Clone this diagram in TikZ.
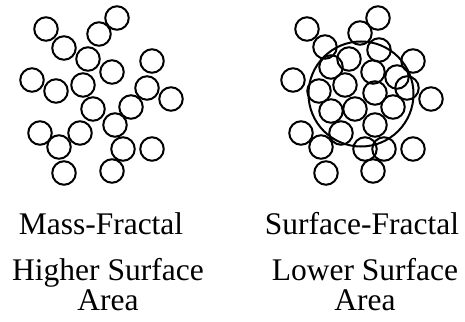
\documentclass[tikz,border=0pt]{standalone}
\usepackage{fontspec}
\setmainfont{Liberation Serif}
\usetikzlibrary{positioning}
\tikzset{
   part/.style={draw, circle, line width=2pt, minimum size=23.5pt, inner sep=0pt},
   agg/.style={draw, circle, line width=2pt, minimum size=105pt, inner sep=0pt},
   caption/.style={font=\fontsize{31.5}{30}\selectfont, align=center, inner sep=0pt},
}

\begin{document}
\begin{tikzpicture}[x=1pt, y=-1pt]
\useasboundingbox (0,0) rectangle (465,321);

% ------------------------------------------------------------
% Mass-fractal cluster
% ------------------------------------------------------------
\node[part] (m1)  at (46,29)   {};
\node[part] (m2)  at (117,18)  {};
\node[part] (m3)  at (99,34)   {};
\node[part] (m4)  at (64,48)   {};
\node[part] (m5)  at (88,59)   {};
\node[part] (m6)  at (152,61)  {};
\node[part] (m7)  at (112,72)  {};
\node[part] (m8)  at (32,80)   {};
\node[part] (m9)  at (56,91)   {};
\node[part] (m10) at (83,85)   {};
\node[part] (m11) at (147,88)  {};
\node[part] (m12) at (171,99)  {};
\node[part] (m13) at (93,109)  {};
\node[part] (m14) at (131,107) {};
\node[part] (m15) at (115,125) {};
\node[part] (m16) at (40,133)  {};
\node[part] (m17) at (80,133)  {};
\node[part] (m18) at (59,147)  {};
\node[part] (m19) at (123,149) {};
\node[part] (m20) at (152,149) {};
\node[part] (m21) at (64,173)  {};
\node[part] (m22) at (112,171) {};

% ------------------------------------------------------------
% Surface-fractal cluster
% ------------------------------------------------------------
\node[agg] (core) at (361,94) {};

\node[part] (s1)  at (307,29)  {};
\node[part] (s2)  at (378,18)  {};
\node[part] (s3)  at (360,33)  {};
\node[part] (s4)  at (325,47)  {};
\node[part] (s5)  at (379,50)  {};
\node[part] (s6)  at (413,61)  {};
\node[part] (s7)  at (349,59)  {};
\node[part] (s8)  at (331,67)  {};
\node[part] (s9)  at (373,72)  {};
\node[part] (s10) at (397,77)  {};
\node[part] (s11) at (293,80)  {};
\node[part] (s12) at (319,91)  {};
\node[part] (s13) at (345,85)  {};
\node[part] (s14) at (375,93)  {};
\node[part] (s15) at (407,88)  {};
\node[part] (s16) at (431,99)  {};
\node[part] (s17) at (331,111) {};
\node[part] (s18) at (355,109) {};
\node[part] (s19) at (393,107) {};
\node[part] (s20) at (375,125) {};
\node[part] (s21) at (301,133) {};
\node[part] (s22) at (341,133) {};
\node[part] (s23) at (321,147) {};
\node[part] (s24) at (365,149) {};
\node[part] (s25) at (384,149) {};
\node[part] (s26) at (413,149) {};
\node[part] (s27) at (326,173) {};
\node[part] (s28) at (373,171) {};

% ------------------------------------------------------------
% Captions
% ------------------------------------------------------------
\node[caption, anchor=base] (massT) at (101,234) {Mass-Fractal};
\node[caption, anchor=base] (massA) at (108,310) {Higher Surface\\Area};

\node[caption, anchor=base] (surfT) at (362,234) {Surface-Fractal};
\node[caption, anchor=base] (surfA) at (365,310) {Lower Surface\\Area};
\end{tikzpicture}
\end{document}
